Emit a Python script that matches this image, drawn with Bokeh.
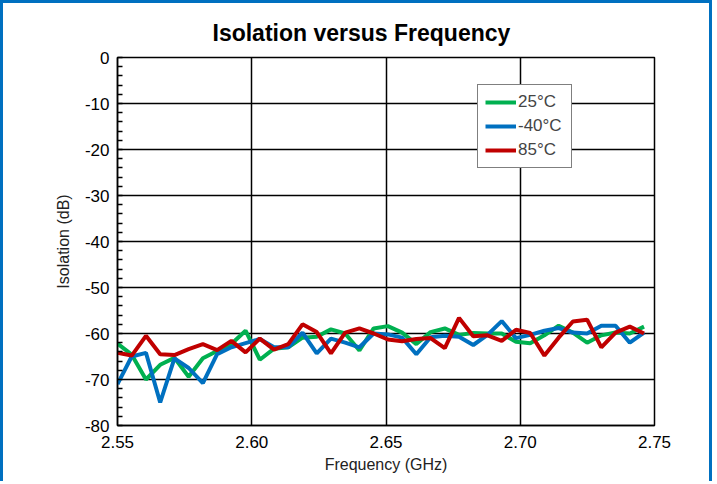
from bokeh.plotting import figure
from bokeh.models import FixedTicker, PrintfTickFormatter, Legend, LegendItem, Range1d
from bokeh.embed import file_html
from bokeh.resources import INLINE

freq_ghz = [2.5500, 2.5553, 2.5606, 2.5659, 2.5712, 2.5765, 2.5818, 2.5871, 2.5924, 2.5977,
            2.6030, 2.6083, 2.6136, 2.6189, 2.6242, 2.6295, 2.6348, 2.6401, 2.6454, 2.6507,
            2.6560, 2.6613, 2.6666, 2.6719, 2.6772, 2.6825, 2.6878, 2.6931, 2.6984, 2.7037,
            2.7090, 2.7143, 2.7196, 2.7249, 2.7302, 2.7355, 2.7408, 2.7461]

iso_25c = [-62.2, -64.6, -70.0, -66.8, -65.3, -69.4, -65.4, -63.8, -62.3, -59.4,
           -65.7, -63.3, -63.0, -60.9, -60.7, -59.1, -60.0, -63.7, -58.9, -58.4,
           -59.8, -62.3, -59.7, -58.9, -60.3, -59.9, -60.0, -60.0, -61.8, -62.1,
           -60.4, -58.3, -59.8, -62.0, -60.4, -59.8, -60.0, -58.5]

iso_m40c = [-71.0, -65.0, -64.2, -75.0, -65.4, -67.5, -70.8, -64.5, -63.0, -62.1,
            -61.2, -63.0, -63.0, -59.8, -64.3, -61.1, -62.0, -63.0, -60.0, -60.2,
            -60.9, -64.5, -60.8, -60.5, -60.7, -62.5, -60.3, -57.3, -61.0, -60.3,
            -59.4, -58.8, -59.8, -60.0, -58.3, -58.3, -62.0, -59.8]

iso_85c = [-64.2, -64.8, -60.5, -64.5, -64.7, -63.4, -62.3, -63.6, -61.6, -64.1,
           -61.1, -63.5, -62.3, -58.0, -59.7, -64.3, -59.8, -58.9, -60.0, -61.3,
           -61.7, -61.2, -61.0, -63.2, -56.6, -60.6, -60.4, -61.6, -59.2, -59.9,
           -64.8, -60.9, -57.4, -57.0, -63.0, -59.8, -58.5, -60.0]

series_labels = ["25°C", "-40°C", "85°C"]
x_ticks = [2.55, 2.60, 2.65, 2.70, 2.75]
y_ticks = [0, -10, -20, -30, -40, -50, -60, -70, -80]
y_minor = [v for v in range(-80, 1, 2)]

FONT = "Liberation Sans"

p = figure(width=712, height=481, output_backend="svg", toolbar_location=None,
           x_range=Range1d(2.55, 2.75), y_range=Range1d(-80, 0),
           min_border_left=114, min_border_right=61, min_border_top=54, min_border_bottom=59,
           title="Isolation versus Frequency")
p.styles = {"border-left": "3px solid #0070C0", "border-top": "3px solid #0070C0",
            "border-right": "3px solid #0070C0"}

p.title.text_font = FONT
p.title.text_font_size = "23px"
p.title.text_font_style = "bold"
p.title.text_color = "black"
p.title.align = "left"
p.title.offset = 95
p.title.standoff = 24

p.outline_line_color = "black"
p.outline_line_width = 1.5

colors = ["#00B050", "#0070C0", "#C00000"]
renderers = []
for ys, c in zip([iso_25c, iso_m40c, iso_85c], colors):
    r = p.line(freq_ghz, ys, line_color=c, line_width=4)
    renderers.append(r)

p.xaxis.ticker = FixedTicker(ticks=x_ticks)
p.xaxis.formatter = PrintfTickFormatter(format="%.2f")
p.yaxis.ticker = FixedTicker(ticks=y_ticks, minor_ticks=y_minor)
p.yaxis.formatter = PrintfTickFormatter(format="%d")

for ax in [p.xaxis, p.yaxis]:
    ax.axis_line_color = "black"
    ax.axis_line_width = 1.5
    ax.major_tick_in = 0
    ax.major_tick_out = 0
    ax.major_label_text_font = FONT
    ax.major_label_text_font_size = "17px"
    ax.major_label_text_color = "black"
    ax.axis_label_text_font = FONT
    ax.axis_label_text_font_size = "16px"
    ax.axis_label_text_font_style = "normal"
    ax.axis_label_text_color = "#222222"
p.xaxis.minor_tick_line_color = None
p.yaxis.minor_tick_in = 5
p.yaxis.minor_tick_out = 0
p.yaxis.minor_tick_line_color = "black"
p.yaxis.minor_tick_line_width = 1.5
p.xaxis.axis_label = "Frequency (GHz)"
p.yaxis.axis_label = "Isolation (dB)"
p.xaxis.major_label_standoff = 10
p.yaxis.major_label_standoff = 8
p.xaxis.axis_label_standoff = 5
p.yaxis.axis_label_standoff = 10

p.xgrid.ticker = FixedTicker(ticks=x_ticks)
p.ygrid.ticker = FixedTicker(ticks=y_ticks)
for g in [p.xgrid, p.ygrid]:
    g.grid_line_color = "black"
    g.grid_line_width = 1.5

legend = Legend(items=[LegendItem(label=l, renderers=[r]) for l, r in zip(series_labels, renderers)],
                location=(360, 257))
legend.border_line_color = "black"
legend.border_line_width = 1.5
legend.background_fill_color = "white"
legend.background_fill_alpha = 1
legend.label_text_font = FONT
legend.label_text_font_size = "17px"
legend.glyph_width = 31
legend.glyph_height = 20
legend.label_width = 46
legend.spacing = 4
legend.padding = 7
legend.label_standoff = 2
p.add_layout(legend)

open("out.html", "w").write(file_html(p, INLINE))
